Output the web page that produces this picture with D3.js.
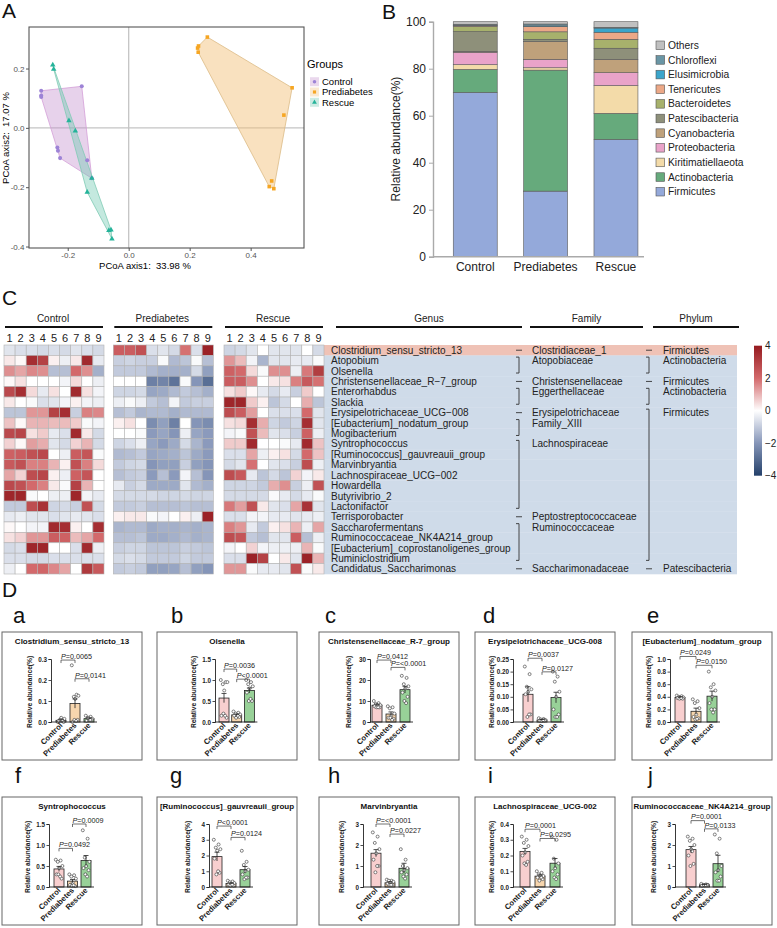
<!DOCTYPE html>
<html>
<head>
<meta charset="utf-8">
<script src="https://cdn.jsdelivr.net/npm/d3@7"></script>
<style>
body { margin: 0; background: #fff; }
text { font-family: "Liberation Sans", Arial, sans-serif; }
</style>
</head>
<body>
<svg id="fig" width="777" height="928"></svg>
<script>
var groups = ["Control", "Prediabetes", "Rescue"];

// ---- A: PCoA coordinates (axis1, axis2)
var pcoaControl = [[-0.287,0.125],[-0.287,0.109],[-0.287,0.104],[-0.154,0.140],[-0.234,-0.066],[-0.232,-0.077],[-0.225,-0.102],[-0.136,-0.109],[-0.121,-0.170]];
var pcoaPrediabetes = [[0.226,0.269],[0.229,0.276],[0.228,0.255],[0.258,0.306],[0.536,0.135],[0.509,0.043],[0.469,-0.179],[0.461,-0.198],[0.476,-0.205]];
var pcoaRescue = [[-0.249,0.212],[-0.246,0.198],[-0.196,0.024],[-0.175,-0.010],[-0.121,-0.170],[-0.136,-0.217],[-0.065,-0.346],[-0.058,-0.344],[-0.055,-0.374]];
var pcoaXTicks = [-0.2, 0.0, 0.2, 0.4];
var pcoaYTicks = [-0.4, -0.2, 0.0, 0.2];

// ---- B: phylum composition (%), stacked bottom -> top
var phyla = ["Firmicutes","Actinobacteria","Kiritimatiellaeota","Proteobacteria","Cyanobacteria","Patescibacteria","Bacteroidetes","Tenericutes","Elusimicrobia","Chloroflexi","Others"];
var abundControl     = [69.9, 9.8, 2.0, 5.3, 0.4, 8.4, 2.2, 0.4, 0.1, 0.4, 1.1];
var abundPrediabetes = [27.9, 51.5, 1.0, 3.6, 7.6, 0.9, 3.2, 2.2, 0.3, 0.8, 1.0];
var abundRescue      = [49.9, 11.1, 11.8, 5.5, 5.7, 4.7, 3.8, 3.0, 1.8, 0.3, 2.4];
var abundTicks = [0, 20, 40, 60, 80, 100];

// ---- C: heatmap z-scores (22 genera x 9 samples per group)
var genera = ["Clostridium_sensu_stricto_13","Atopobium","Olsenella","Christensenellaceae_R\u22127_group","Enterorhabdus","Slackia","Erysipelotrichaceae_UCG\u2212008","[Eubacterium]_nodatum_group","Mogibacterium","Syntrophococcus","[Ruminococcus]_gauvreauii_group","Marvinbryantia","Lachnospiraceae_UCG\u2212002","Howardella","Butyrivibrio_2","Lactonifactor","Terrisporobacter","Saccharofermentans","Ruminococcaceae_NK4A214_group","[Eubacterium]_coprostanoligenes_group","Ruminiclostridium","Candidatus_Saccharimonas"];
// [name, first row, last row]
var families = [["Clostridiaceae_1",0,0],["Atopobiaceae",1,2],["Christensenellaceae",3,3],["Eggerthellaceae",4,5],["Erysipelotrichaceae",6,6],["Family_XIII",7,8],["Lachnospiraceae",9,15],["Peptostreptococcaceae",16,16],["Ruminococcaceae",17,20],["Saccharimonadaceae",21,21]];
var phylaC = [["Firmicutes",0,0],["Actinobacteria",1,2],["Firmicutes",3,3],["Actinobacteria",4,5],["Firmicutes",6,20],["Patescibacteria",21,21]];
var heatControl = [
[-0.5,-0.6,-0.6,-0.7,-0.6,-0.7,-0.5,-0.6,-0.7],
[0.3,0.1,3.5,3.0,0.2,-0.3,0.3,3.6,-0.4],
[1.5,1.2,1.6,1.5,-1.2,-1.2,2.0,1.5,-1.5],
[0.1,0.4,0,0,0,-0.2,0.5,0,-0.3],
[2.8,3.5,0.5,-0.4,0.4,0,3.6,0.4,-0.2],
[0.3,0,-0.1,-0.6,-0.5,-0.2,0.2,-0.2,-0.3],
[-1.1,-1.1,1.4,1.4,3.0,3.5,-0.9,1.7,1.6],
[0.8,0.1,1.0,1.0,0.9,0.9,0.7,-0.1,-0.2],
[2.8,2.9,0.4,0.7,-0.4,-0.6,3.6,0.3,-0.7],
[0.6,0.1,1.3,1.1,-0.5,-0.7,0.6,1.0,-0.7],
[2.2,2.3,2.6,2.8,0,-0.3,2.3,2.5,-0.1],
[2.4,2.6,1.7,1.7,1.0,0.2,2.6,1.7,0.5],
[1.2,0.6,2.7,2.9,0.2,-0.3,2.2,2.5,0],
[2.8,2.6,2.0,1.7,0.3,-0.1,3.0,1.0,0],
[3.7,3.7,-0.1,0,-0.3,-0.3,3.7,-0.2,-0.4],
[-1.0,-1.0,2.7,3.4,-0.8,-0.7,-0.9,2.6,-0.7],
[-0.4,-0.3,-0.5,-0.5,-0.6,-0.5,-0.4,-0.5,-0.6],
[0.1,0,-0.2,-0.2,3.6,3.5,0.2,0,3.5],
[0.4,0.6,1.4,1.4,2.3,2.2,0.9,1.2,2.0],
[-0.7,-0.6,3.7,3.7,0,0,-0.6,3.6,-0.3],
[-0.6,-0.6,-0.7,-0.7,-0.6,-0.6,-0.6,-0.6,-0.6],
[-0.3,0,2.0,2.1,1.6,1.2,0,3.2,2.4]];
var heatPrediabetes = [
[2.3,2.3,2.6,-0.6,-0.5,-0.7,1.9,-0.6,3.8],
[-0.9,-0.8,-0.9,-0.9,-0.1,-1.3,-1.1,-0.1,-1.2],
[-1.0,-1.0,-1.0,-1.3,-1.5,-1.5,-1.5,-0.7,-1.8],
[0,0,0,-2.5,-2.4,-2.8,-0.1,-2.0,-2.9],
[-0.8,-0.8,-0.7,-1.7,-1.6,-1.3,-1.0,-1.2,-1.5],
[-0.3,-0.1,-0.3,-1.0,-1.2,-0.2,-1.0,-0.9,-0.9],
[-1.2,-1.0,-1.4,-1.3,-1.3,-1.5,-1.3,-1.3,-1.3],
[0.2,0.4,0,-2.2,-1.8,-2.5,0,-2.0,-2.2],
[0,0,-0.1,-1.9,-1.7,-2.0,-0.3,-1.7,-1.9],
[-0.8,-0.6,-0.3,-1.7,-1.9,-1.6,-0.7,-1.4,-1.9],
[-1.3,-1.2,-1.0,-1.7,-1.6,-1.5,-1.1,-1.6,-1.9],
[-1.0,-0.8,-0.7,-2.0,-1.8,-1.8,-0.9,-1.8,-2.0],
[-1.2,-1.0,-0.9,-1.9,-1.2,-1.9,-0.2,-1.2,-2.0],
[-0.4,-0.9,-0.7,-1.6,-1.6,-1.6,-0.5,-1.3,-1.5],
[-0.7,-0.7,-0.7,-0.7,-0.8,-0.8,-0.7,-0.8,-0.8],
[-1.0,-1.0,-0.9,-1.2,-1.2,-1.2,-1.1,-1.2,-1.2],
[0.2,0.3,0.3,-0.1,-0.2,0,0.2,-0.3,3.8],
[-1.4,-1.3,-1.3,-1.6,-1.5,-1.5,-1.4,-1.5,-1.4],
[-1.2,-1.2,-1.1,-1.6,-1.6,-1.5,-1.3,-1.5,-1.4],
[-0.9,-0.8,-0.8,-1.1,-1.1,-1.1,-0.9,-1.0,-1.1],
[-0.7,-0.6,-0.7,-1.0,-1.0,-1.0,-0.8,-1.0,-1.0],
[-1.0,-0.9,-1.0,-1.8,-1.8,-1.7,-1.2,-1.8,-2.0]];
var heatRescue = [
[-0.8,-0.7,-0.5,0,-0.5,-0.5,-0.5,0,-0.7],
[1.4,0.9,-0.2,-1.4,-0.5,-0.5,-0.4,-0.4,-0.1],
[2.2,2.0,0.5,-0.1,1.5,1.5,-0.3,1.8,3.1],
[2.3,2.3,1.5,0,0.3,0.4,1.7,2.4,1.9],
[0.4,0.7,0.1,-0.4,-0.7,-0.4,-0.9,0.7,0],
[3.7,3.7,0.7,0.2,-1.1,-0.7,0,1.1,-1.1],
[2.7,2.3,1.3,0,-0.6,-0.6,-0.6,2.0,-0.5],
[0.4,0.5,3.5,1.1,-0.8,-1.0,-0.8,3.5,-0.5],
[-0.2,-0.1,2.6,0.9,-0.5,-0.6,-0.9,2.2,-0.3],
[0.7,0.7,3.6,0,0,-0.1,-0.4,3.6,0.8],
[-0.6,-0.6,1.2,-0.3,0.2,0.4,-0.7,2.0,0.8],
[-0.7,-0.5,1.9,0,-0.5,-0.6,-0.9,2.7,-0.3],
[2.7,2.4,-0.4,-1.1,-0.7,-1.1,0.6,-0.2,0.3],
[-0.8,-0.8,-0.8,-1.0,1.1,1.5,-0.9,-0.3,2.6],
[-0.7,-0.7,-0.7,-0.7,-0.1,-0.4,-0.7,-0.4,-0.1],
[1.8,1.3,2.6,0.3,-0.5,-0.6,1.2,3.4,-0.5],
[-0.6,-0.6,-0.2,-0.2,-0.4,-0.4,-0.5,-0.4,-0.3],
[1.7,1.4,-0.4,-1.0,0.2,0.4,1.0,-0.3,1.2],
[2.7,2.5,-1.0,-1.2,-0.5,-0.5,2.3,-1.2,-0.3],
[-0.2,0,0.6,-0.2,-0.3,-0.3,-0.3,1.0,-0.1],
[-0.6,-0.6,3.8,3.0,0,0.3,-0.5,3.8,1.0],
[1.4,1.4,-0.1,-0.4,-0.4,-0.5,2.6,-0.1,0.3]];
var heatLegendTicks = [4, 2, 0, -2, -4];

// ---- D: genus abundance bar charts (mean, SEM, samples)
var dTitles = ["Clostridium_sensu_stricto_13","Olsenella","Christensenellaceae_R-7_group","Erysipelotrichaceae_UCG-008","[Eubacterium]_nodatum_group","Syntrophococcus","[Ruminococcus]_gauvreauii_group","Marvinbryantia","Lachnospiraceae_UCG-002","Ruminococcaceae_NK4A214_group"];
var dLetters = ["a","b","c","d","e","f","g","h","i","j"];
var dYMax  = [0.3, 1.5, 30, 0.25, 1.0, 1.5, 4, 3, 0.4, 3];
var dYStep = [0.1, 0.5, 10, 0.05, 0.2, 0.5, 1, 1, 0.1, 1];
var dYFmt  = [".1f", ".1f", "d", ".2f", ".1f", ".1f", "d", "d", ".1f", "d"];
var dMeans = [[0.008,0.088,0.016],[0.57,0.17,0.75],[8.0,3.8,15.4],[0.110,0.008,0.097],[0.39,0.17,0.41],[0.43,0.14,0.63],[1.93,0.22,1.10],[1.61,0.20,0.89],[0.225,0.069,0.151],[1.78,0.10,1.11]];
var dSems  = [[0.003,0.022,0.004],[0.11,0.02,0.06],[0.5,1.0,1.6],[0.03,0.002,0.021],[0.01,0.05,0.08],[0.06,0.04,0.12],[0.28,0.04,0.20],[0.17,0.05,0.24],[0.02,0.008,0.03],[0.15,0.02,0.40]];
var dPtsControl = [
[0.0,0.005,0.01,0.015,0.02,0.005,0.0,0.01,0.008],
[1.0,0.95,0.9,0.95,0.75,0.15,0.1,0.2,0.15],
[10,9,8.5,8,8,7.5,7,7,7],
[0.22,0.19,0.14,0.13,0.12,0.11,0.03,0.02,0.03],
[0.42,0.41,0.40,0.39,0.38,0.38,0.37,0.37,0.38],
[0.65,0.63,0.6,0.5,0.45,0.3,0.2,0.3,0.25],
[3.0,2.7,2.5,2.4,2.3,1.8,0.9,0.8,1.0],
[2.6,2.4,2.1,1.8,1.6,1.3,1.0,0.7,1.0],
[0.32,0.30,0.28,0.26,0.22,0.20,0.16,0.15,0.14],
[2.4,2.3,2.2,2.0,1.8,1.5,1.1,1.0,1.7]];
var dPtsPrediabetes = [
[0.27,0.13,0.12,0.125,0.11,0.0,0.01,0.01,0.005],
[0.25,0.22,0.2,0.18,0.15,0.15,0.12,0.1,0.15],
[7.5,7,6.5,4,3,2,1.5,2,1],
[0.015,0.012,0.01,0.008,0.005,0.005,0.006,0.004,0.007],
[0.36,0.33,0.3,0.22,0.12,0.08,0.06,0.04,0.05],
[0.3,0.28,0.25,0.2,0.1,0.05,0.02,0.03,0.04],
[0.4,0.35,0.3,0.25,0.2,0.15,0.1,0.1,0.15],
[0.35,0.3,0.3,0.25,0.2,0.15,0.1,0.1,0.1],
[0.10,0.09,0.08,0.07,0.07,0.06,0.05,0.04,0.06],
[0.15,0.12,0.1,0.1,0.08,0.06,0.1,0.09,0.1]];
var dPtsRescue = [
[0.03,0.025,0.02,0.015,0.01,0.005,0.01,0.02,0.01],
[1.0,0.95,0.9,0.85,0.8,0.7,0.5,0.5,0.55],
[22,21,18,17,16,14,12,10,9],
[0.2,0.18,0.16,0.12,0.1,0.05,0.03,0.02,0.02],
[0.8,0.6,0.55,0.5,0.4,0.3,0.2,0.2,0.15],
[1.35,1.15,0.7,0.6,0.5,0.45,0.4,0.3,0.25],
[2.3,1.6,1.4,1.1,1.0,0.8,0.6,0.5,0.6],
[1.8,1.3,1.0,0.9,0.8,0.7,0.6,0.5,0.4],
[0.32,0.30,0.18,0.15,0.12,0.10,0.08,0.06,0.05],
[2.5,2.3,1.6,1.0,0.8,0.7,0.5,0.3,0.3]];
// comparisons: [group a, group b, bracket height, label after "P"]
var dPvals = [
[[0,1,0.295,"=0.0065"],[1,2,0.206,"=0.0141"]],
[[0,1,1.26,"=0.0036"],[1,2,1.02,"<0.0001"]],
[[0,1,29.5,"=0.0412"],[1,2,26,"=<0.0001"]],
[[0,1,0.253,"=0.0037"],[1,2,0.199,"=0.0127"]],
[[0,1,1.04,"=0.0249"],[1,2,0.9,"=0.0150"]],
[[0,1,0.92,"=0.0492"],[1,2,1.5,"=0.0009"]],
[[0,1,3.87,"<0.0001"],[1,2,3.15,"=0.0124"]],
[[0,1,3.0,"=<0.0001"],[1,2,2.52,"=0.0227"]],
[[0,1,0.367,"=0.0001"],[1,2,0.308,"=0.0295"]],
[[0,1,3.16,"=0.0001"],[1,2,2.77,"=0.0133"]]];

var svg = d3.select("#fig");
svg.append("rect").attr("width", 777).attr("height", 928).attr("fill", "#fff");

function letter(x, y, t, size) {
  svg.append("text").attr("x", x).attr("y", y).attr("font-size", size).attr("fill", "#111").text(t);
}

// ================= A =================
letter(2, 18, "A", 21);
var ax = d3.scaleLinear().domain([-0.327, 0.575]).range([29, 304]);
var ay = d3.scaleLinear().domain([-0.405, 0.34]).range([248, 27]);
var gA = svg.append("g");
gA.append("line").attr("x1", ax(0)).attr("x2", ax(0)).attr("y1", 27).attr("y2", 248).attr("stroke", "#c4c4c4").attr("stroke-width", 1.3);
gA.append("line").attr("x1", 29).attr("x2", 304).attr("y1", ay(0)).attr("y2", ay(0)).attr("stroke", "#c4c4c4").attr("stroke-width", 1.3);

var pcoaSets = [pcoaControl, pcoaPrediabetes, pcoaRescue];
var pcoaFill = ["#c48fcc", "#f2c07a", "#6cc7ae"];
var pcoaLine = ["#d49fd8", "#dcbb86", "#7fcab4"];
var pcoaPoint = ["#9d83d6", "#f6a623", "#25b39a"];
var pcoaSym = [d3.symbolCircle, d3.symbolSquare, d3.symbolTriangle];

pcoaSets.forEach(function(pts, i) {
  var hull = d3.polygonHull(pts.map(function(p) { return [ax(p[0]), ay(p[1])]; }));
  gA.append("path").attr("d", "M" + hull.join("L") + "Z")
    .attr("fill", pcoaFill[i]).attr("fill-opacity", i == 1 ? 0.48 : 0.4)
    .attr("stroke", pcoaLine[i]).attr("stroke-width", 0.8);
});
pcoaSets.forEach(function(pts, i) {
  gA.selectAll(null).data(pts).enter().append("path")
    .attr("d", d3.symbol().type(pcoaSym[i]).size(13))
    .attr("transform", function(p) { return "translate(" + ax(p[0]) + "," + ay(p[1]) + ")"; })
    .attr("fill", pcoaPoint[i]);
});
gA.append("rect").attr("x", 29).attr("y", 27).attr("width", 275).attr("height", 221)
  .attr("fill", "none").attr("stroke", "#555").attr("stroke-width", 1.1);

var axA = gA.append("g").attr("transform", "translate(0,248)")
  .call(d3.axisBottom(ax).tickValues(pcoaXTicks).tickSize(3).tickPadding(1.5).tickFormat(function(d) { return d.toFixed(1); }));
var ayA = gA.append("g").attr("transform", "translate(29,0)")
  .call(d3.axisLeft(ay).tickValues(pcoaYTicks).tickSize(3).tickPadding(1.5).tickFormat(function(d) { return d.toFixed(1); }));
[axA, ayA].forEach(function(a) {
  a.select(".domain").remove();
  a.selectAll("line").attr("stroke", "#555");
  a.selectAll("text").attr("font-size", 8).attr("fill", "#555");
});
gA.append("text").attr("x", 145).attr("y", 269).attr("text-anchor", "middle").attr("font-size", 9.5)
  .style("white-space", "pre").text("PCoA axis1:  33.98 %");
gA.append("text").attr("transform", "translate(9,138) rotate(-90)").attr("text-anchor", "middle").attr("font-size", 9.5)
  .style("white-space", "pre").text("PCoA axis2:  17.07 %");

gA.append("text").attr("x", 307).attr("y", 68).attr("font-size", 11).text("Groups");
groups.forEach(function(g, i) {
  var yy = 81.7 + i * 10.3;
  gA.append("rect").attr("x", 310).attr("y", yy - 4.5).attr("width", 9).attr("height", 9)
    .attr("fill", pcoaFill[i]).attr("fill-opacity", 0.35);
  gA.append("path").attr("d", d3.symbol().type(pcoaSym[i]).size(10))
    .attr("transform", "translate(314.5," + yy + ")").attr("fill", pcoaPoint[i]);
  gA.append("text").attr("x", 322).attr("y", yy + 3.3).attr("font-size", 9.5).text(g);
});

// ================= B =================
letter(382, 19, "B", 21);
var phylaColors = ["#94a9da","#66aa7c","#f3dba9","#e9a3c9","#bfa17b","#8e907a","#a7b16c","#eca887","#3ba5cb","#6a96a5","#c0c0c0"];
var abundSets = [abundControl, abundPrediabetes, abundRescue];
var rowsB = groups.map(function(g, i) {
  var r = { group: g };
  phyla.forEach(function(p, j) { r[p] = abundSets[i][j]; });
  return r;
});
var bx = d3.scaleBand().domain(groups).range([442.7, 648.5]).paddingInner(0.375).paddingOuter(0.15);
var by = d3.scaleLinear().domain([0, 100]).range([256.7, 21.7]);
var stackB = d3.stack().keys(phyla)(rowsB);
var gB = svg.append("g");
gB.selectAll("g.layer").data(stackB).enter().append("g")
  .attr("fill", function(d, i) { return phylaColors[i]; })
  .selectAll("rect").data(function(d) { return d; }).enter().append("rect")
  .attr("x", function(d) { return bx(d.data.group); })
  .attr("y", function(d) { return by(d[1]); })
  .attr("width", bx.bandwidth())
  .attr("height", function(d) { return by(d[0]) - by(d[1]); })
  .attr("stroke", "#5a5a5a").attr("stroke-width", 0.6);
var yAxB = gB.append("g").attr("transform", "translate(433,0)")
  .call(d3.axisLeft(by).tickValues(abundTicks).tickSize(4));
yAxB.select(".domain").attr("stroke", "#aaa").attr("stroke-width", 1.4);
yAxB.selectAll("line").attr("stroke", "#aaa");
yAxB.selectAll("text").attr("font-size", 12).attr("fill", "#222");
gB.append("line").attr("x1", 433).attr("x2", 644).attr("y1", by(0)).attr("y2", by(0)).attr("stroke", "#aaa").attr("stroke-width", 1.4);
groups.forEach(function(g) {
  gB.append("text").attr("x", bx(g) + bx.bandwidth() / 2).attr("y", 271).attr("text-anchor", "middle")
    .attr("font-size", 12).attr("fill", "#222").text(g);
});
gB.append("text").attr("transform", "translate(400,139) rotate(-90)").attr("text-anchor", "middle")
  .attr("font-size", 12).attr("fill", "#222").text("Relative abundance(%)");
phyla.slice().reverse().forEach(function(p, k) {
  var j = phyla.length - 1 - k, yy = 45.3 + k * 14.64;
  gB.append("rect").attr("x", 656).attr("y", yy - 4.3).attr("width", 8.6).attr("height", 8.6)
    .attr("fill", phylaColors[j]).attr("stroke", "#555").attr("stroke-width", 0.6);
  gB.append("text").attr("x", 668).attr("y", yy + 3.6).attr("font-size", 10.3).attr("fill", "#222").text(p);
});

// ================= C =================
letter(2, 305, "C", 21);
var gC = svg.append("g");
var heatColor = d3.scaleLinear().domain([-4, -2, 0, 2, 4])
  .range(["#24406a", "#8595b8", "#ffffff", "#d3696b", "#951a1f"]);
var hy = d3.scaleBand().domain(d3.range(genera.length)).range([345, 574]);
var blocks = [[heatControl, 4], [heatPrediabetes, 113.3], [heatRescue, 224]];
var cols = d3.range(1, 10);

// label band behind genus / family / phylum
gC.selectAll("rect.band").data(genera).enter().append("rect")
  .attr("x", 324).attr("y", function(d, i) { return hy(i); })
  .attr("width", 413).attr("height", hy.bandwidth() + 0.3)
  .attr("fill", function(d, i) { return i == 0 ? "#efc2b6" : "#cfdbe9"; });

blocks.forEach(function(b, bi) {
  var hx = d3.scaleBand().domain(cols).range([b[1], b[1] + 100]);
  b[0].forEach(function(row, r) {
    gC.selectAll(null).data(row).enter().append("rect")
      .attr("x", function(v, c) { return hx(c + 1); })
      .attr("y", hy(r))
      .attr("width", hx.bandwidth()).attr("height", hy.bandwidth())
      .attr("fill", function(v) { return heatColor(v); })
      .attr("stroke", "#b3b3b3").attr("stroke-width", 0.6);
  });
  cols.forEach(function(c) {
    gC.append("text").attr("x", hx(c) + hx.bandwidth() / 2).attr("y", 342).attr("text-anchor", "middle")
      .attr("font-size", 11).attr("fill", "#222").text(c);
  });
  gC.append("text").attr("x", b[1] + 49).attr("y", 322).attr("text-anchor", "middle")
    .attr("font-size", 10).attr("fill", "#222").text(groups[bi]);
  gC.append("line").attr("x1", b[1] + 1).attr("x2", b[1] + 99).attr("y1", 327).attr("y2", 327)
    .attr("stroke", "#111").attr("stroke-width", 1.8);
});

[["Genus", 336, 522], ["Family", 530, 643], ["Phylum", 653, 739]].forEach(function(h) {
  gC.append("text").attr("x", (h[1] + h[2]) / 2).attr("y", 322).attr("text-anchor", "middle")
    .attr("font-size", 10).attr("fill", "#222").text(h[0]);
  gC.append("line").attr("x1", h[1]).attr("x2", h[2]).attr("y1", 327).attr("y2", 327)
    .attr("stroke", "#111").attr("stroke-width", 1.8);
});

function rowMid(i) { return hy(i) + hy.bandwidth() / 2; }
gC.selectAll("text.genus").data(genera).enter().append("text")
  .attr("x", 331).attr("y", function(d, i) { return rowMid(i) + 3.6; })
  .attr("font-size", 10).attr("fill", "#222").text(function(d) { return d; });

function bracket(x, a, b) {
  if (a == b) {
    gC.append("line").attr("x1", x - 3).attr("x2", x + 3).attr("y1", rowMid(a)).attr("y2", rowMid(a))
      .attr("stroke", "#333").attr("stroke-width", 0.9);
  } else {
    var t = rowMid(a) - 3.5, btm = rowMid(b) + 2;
    gC.append("path").attr("d", "M" + (x - 3) + "," + t + "H" + x + "V" + btm + "H" + (x - 3))
      .attr("fill", "none").attr("stroke", "#333").attr("stroke-width", 0.9);
  }
}
families.forEach(function(f) {
  bracket(519, f[1], f[2]);
  gC.append("text").attr("x", 532).attr("y", rowMid(f[1]) + 3.6).attr("font-size", 10).attr("fill", "#222").text(f[0]);
});
phylaC.forEach(function(p) {
  bracket(649, p[1], p[2]);
  gC.append("text").attr("x", 663).attr("y", rowMid(p[1]) + 3.6).attr("font-size", 10).attr("fill", "#222").text(p[0]);
});

// colour legend
var defs = svg.append("defs");
var grad = defs.append("linearGradient").attr("id", "heatgrad").attr("x1", 0).attr("x2", 0).attr("y1", 0).attr("y2", 1);
d3.range(0, 1.0001, 0.125).forEach(function(t) {
  grad.append("stop").attr("offset", t).attr("stop-color", heatColor(4 - 8 * t));
});
var ly = d3.scaleLinear().domain([4, -4]).range([345.7, 475.7]);
gC.append("rect").attr("x", 754).attr("y", ly(4)).attr("width", 8).attr("height", ly(-4) - ly(4)).attr("fill", "url(#heatgrad)");
heatLegendTicks.forEach(function(t) {
  gC.append("text").attr("x", 765).attr("y", ly(t) + 3.5).attr("font-size", 10).attr("fill", "#222")
    .text(t < 0 ? "\u2212" + Math.abs(t) : t);
});

// ================= D =================
letter(2, 597, "D", 21);
var dFrameX = [2, 157, 319, 475, 632];
var dFrameY = [632, 797];
var dLetterX = [13, 171, 325, 483, 647, 15, 170, 328, 488, 648];
var dAxisOff = [49, 58, 51, 38, 38, 47, 52, 44, 38, 43];
var dBarOff = [10, 9, 7, 15, 10, 10, 8, 13, 12, 16];
var dBarGap = [14, 12.7, 14, 14, 16, 13.5, 14, 14, 15, 13.5];
var barFill = ["#f8cfcf", "#f7d6ae", "#98d198"];
var jitter = [-3.2, 1.6, -1.2, 3.4, 0.2, -2.5, 2.6, -0.6, 1.1];

d3.range(10).forEach(function(i) {
  var row = i < 5 ? 0 : 1, L = dFrameX[i % 5], T = dFrameY[row];
  var g = svg.append("g");
  letter(dLetterX[i], row ? 783 : 623, dLetters[i], 22);
  g.append("rect").attr("x", L).attr("y", T).attr("width", 140).attr("height", 128)
    .attr("fill", "none").attr("stroke", "#666").attr("stroke-width", 1);
  g.append("text").attr("x", L + 70).attr("y", T + 12).attr("text-anchor", "middle")
    .attr("font-size", 8).attr("font-weight", "bold").attr("fill", "#111").text(dTitles[i]);

  var axX = L + dAxisOff[i];
  var y = d3.scaleLinear().domain([0, dYMax[i]]).range([T + 90, T + 27]);
  var cx = function(k) { return axX + dBarOff[i] + k * dBarGap[i]; };
  var pts = [dPtsControl[i], dPtsPrediabetes[i], dPtsRescue[i]];

  groups.forEach(function(gn, k) {
    var m = dMeans[i][k], s = dSems[i][k];
    g.append("rect").attr("x", cx(k) - 5).attr("y", y(m)).attr("width", 10).attr("height", y(0) - y(m))
      .attr("fill", barFill[k]).attr("stroke", "#222").attr("stroke-width", 0.8);
    g.selectAll(null).data(pts[k]).enter().append("circle")
      .attr("cx", function(v, j) { return cx(k) + jitter[j]; })
      .attr("cy", function(v) { return y(v); })
      .attr("r", 1.5).attr("fill", "#fff").attr("stroke", "#333").attr("stroke-width", 0.6);
    g.append("path")
      .attr("d", "M" + cx(k) + "," + y(m - s) + "V" + y(m + s) + "M" + (cx(k) - 2.5) + "," + y(m + s) + "h5")
      .attr("stroke", "#222").attr("stroke-width", 0.8).attr("fill", "none");
  });

  var yt = d3.range(0, dYMax[i] + dYStep[i] / 2, dYStep[i]);
  var yAx = g.append("g").attr("transform", "translate(" + axX + ",0)")
    .call(d3.axisLeft(y).tickValues(yt).tickSize(2.5).tickPadding(1.5).tickFormat(d3.format(dYFmt[i])));
  yAx.select(".domain").attr("stroke", "#222").attr("stroke-width", 0.9);
  yAx.selectAll("line").attr("stroke", "#222").attr("stroke-width", 0.8);
  yAx.selectAll("text").attr("font-size", 6.3).attr("font-weight", "bold").attr("fill", "#222");
  g.append("line").attr("x1", axX).attr("x2", cx(2) + 8).attr("y1", y(0)).attr("y2", y(0))
    .attr("stroke", "#222").attr("stroke-width", 0.9);

  groups.forEach(function(gn, k) {
    g.append("text").attr("transform", "translate(" + (cx(k) + 2) + "," + (y(0) + 4) + ") rotate(-45)")
      .attr("text-anchor", "end").attr("font-size", 7.7).attr("font-weight", "bold").attr("fill", "#222").text(gn);
  });
  g.append("text").attr("transform", "translate(" + (axX - 19) + "," + (T + 60) + ") rotate(-90)")
    .attr("text-anchor", "middle").attr("font-size", 6.6).attr("font-weight", "bold").attr("fill", "#222")
    .text("Relative abundance(%)");

  dPvals[i].forEach(function(p) {
    var x1 = cx(p[0]), x2 = cx(p[1]), yb = y(p[2]);
    g.append("path").attr("d", "M" + x1 + "," + (yb + 3) + "V" + yb + "H" + x2 + "V" + (yb + 3))
      .attr("fill", "none").attr("stroke", "#333").attr("stroke-width", 0.7);
    var t = g.append("text").attr("x", x1).attr("y", yb - 1.2).attr("font-size", 7.2).attr("fill", "#222");
    t.append("tspan").attr("font-style", "italic").text("P");
    t.append("tspan").text(p[3]);
  });
});
</script>
</body>
</html>
